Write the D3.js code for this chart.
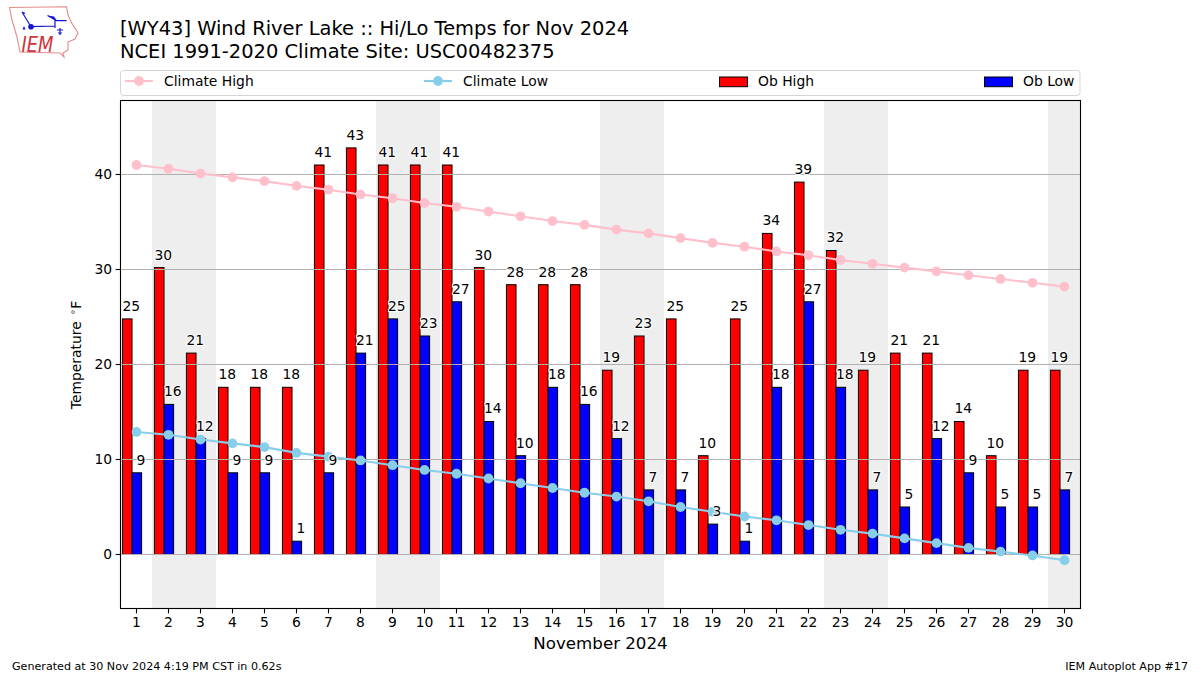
<!DOCTYPE html>
<html><head><meta charset="utf-8">
<script src="https://cdn.jsdelivr.net/npm/d3@7"></script>
<style>html,body{margin:0;padding:0;background:#fff}svg{display:block}text{font-family:"DejaVu Sans",sans-serif}</style>
</head><body><svg id="c" width="1200" height="675"></svg>
<script>
const days = d3.range(1,31);
const obHigh = [24.8,30.2,21.2,17.6,17.6,17.6,41,42.8,41,41,41,30.2,28.4,28.4,28.4,19.4,23,24.8,10.4,24.8,33.8,39.2,32,19.4,21.2,21.2,14,10.4,19.4,19.4];
const obLow = [8.6,15.8,12.2,8.6,8.6,1.4,8.6,21.2,24.8,23,26.6,14,10.4,17.6,15.8,12.2,6.8,6.8,3.2,1.4,17.6,26.6,17.6,6.8,5,12.2,8.6,5,5,6.8];
const highLabels = [25,30,21,18,18,18,41,43,41,41,41,30,28,28,28,19,23,25,10,25,34,39,32,19,21,21,14,10,19,19];
const lowLabels = [9,16,12,9,9,1,9,21,25,23,27,14,10,18,16,12,7,7,3,1,18,27,18,7,5,12,9,5,5,7];
const climHigh = [41.0,40.6,40.1,39.7,39.3,38.8,38.4,37.9,37.5,37.0,36.6,36.1,35.6,35.1,34.7,34.2,33.8,33.3,32.8,32.4,31.9,31.5,31.0,30.6,30.2,29.8,29.4,29.0,28.6,28.2];
const climLow = [12.9,12.6,12.1,11.7,11.3,10.7,10.3,9.9,9.4,8.9,8.5,8.0,7.5,7.0,6.5,6.1,5.6,5.0,4.5,4.0,3.6,3.1,2.6,2.2,1.7,1.2,0.7,0.3,-0.1,-0.6];
const weekends = [2,3,9,10,16,17,23,24,30];
const yTicks = [0,10,20,30,40];
const titles = ["[WY43] Wind River Lake :: Hi/Lo Temps for Nov 2024","NCEI 1991-2020 Climate Site: USC00482375"];

const L=120.5,R=1080.5,T=100.5,B=608.5;
const x=d3.scaleLinear().domain([0.5,30.5]).range([L,R]);
const y=d3.scaleLinear().domain([-5.684,47.789]).range([B,T]);
const svg=d3.select("#c");
const bw=x(0.3)-x(0);
const offH=-0.44, offL=-0.14;

svg.append("g").attr("shape-rendering","crispEdges").selectAll("rect").data(weekends).join("rect")
  .attr("x",d=>Math.floor(x(d-0.5))).attr("width",x(1)-x(0)).attr("y",T).attr("height",B-T).attr("fill","#eeeeee");

function bars(vals,off,col){
  svg.append("g").selectAll("rect").data(vals).join("rect")
   .attr("x",(d,i)=>x(days[i]+off)).attr("width",bw)
   .attr("y",d=>y(d)).attr("height",d=>y(0)-y(d))
   .attr("fill",col).attr("stroke","#000").attr("stroke-width",1);
}
bars(obHigh,offH,"#ff0000");
bars(obLow,offL,"#0000ff");

svg.append("g").selectAll("line").data(yTicks).join("line")
  .attr("x1",L).attr("x2",R).attr("y1",d=>y(d)).attr("y2",d=>y(d)).attr("stroke","#b0b0b0").attr("stroke-width",1);

function climate(vals,col){
  const line=d3.line().x((d,i)=>x(days[i])).y(d=>y(d));
  svg.append("path").attr("d",line(vals)).attr("fill","none").attr("stroke",col).attr("stroke-width",2.08);
  svg.append("g").selectAll("circle").data(vals).join("circle")
    .attr("cx",(d,i)=>x(days[i])).attr("cy",d=>y(d)).attr("r",4.9).attr("fill",col);
}
climate(climHigh,"#ffc0cb");
climate(climLow,"#87ceeb");

function labels(vals,labs,off){
  svg.append("g").selectAll("text").data(vals).join("text")
   .attr("x",(d,i)=>x(days[i]+off)+bw/2+4).attr("y",d=>y(d)-8)
   .attr("text-anchor","middle").attr("font-size",13.89).attr("fill","#000")
   .attr("stroke","#fff").attr("stroke-width",2).attr("paint-order","stroke")
   .text((d,i)=>labs[i]);
}
labels(obHigh,highLabels,offH);
labels(obLow,lowLabels,offL);

svg.append("rect").attr("x",L).attr("y",T).attr("width",R-L).attr("height",B-T).attr("fill","none").attr("stroke","#000").attr("stroke-width",1.1);

const ax=svg.append("g").attr("transform",`translate(0,${B})`).call(d3.axisBottom(x).offset(0).tickValues(days).tickFormat(d3.format("d")).tickSize(4.86).tickPadding(3.5));
const ay=svg.append("g").attr("transform",`translate(${L},0)`).call(d3.axisLeft(y).offset(0).tickValues(yTicks).tickSize(4.86).tickPadding(3.5));
[ax,ay].forEach(a=>{a.select(".domain").remove();a.selectAll("text").attr("font-size",13.89).attr("font-family","DejaVu Sans").attr("fill","#000");a.selectAll("line").attr("stroke","#000").attr("stroke-width",1.1);});

svg.append("text").attr("x",(L+R)/2).attr("y",649).attr("text-anchor","middle").attr("font-size",16.67).text("November 2024");
const yl=svg.append("text").attr("transform",`translate(80.5,${(T+B)/2+.5}) rotate(-90)`).attr("text-anchor","middle").attr("font-size",13.89);
yl.append("tspan").text("Temperature ");
yl.append("tspan").attr("font-size",9.7).attr("dy",-5).attr("dx",2).text("∘");
yl.append("tspan").attr("dy",5).text("F");

svg.append("g").selectAll("text").data(titles).join("text").attr("x",120).attr("y",(d,i)=>35+i*23)
  .attr("font-size",19.44).text(d=>d);

svg.append("text").attr("x",12).attr("y",670).attr("font-size",11.11).text("Generated at 30 Nov 2024 4:19 PM CST in 0.62s");
svg.append("text").attr("x",1188).attr("y",670).attr("text-anchor","end").attr("font-size",11.11).text("IEM Autoplot App #17");

// legend
const lg=svg.append("g");
lg.append("rect").attr("x",120.5).attr("y",70.5).attr("width",959.5).attr("height",25).attr("rx",3).attr("fill","#fff").attr("stroke","#d5d5d5").attr("stroke-width",1);
const lineItems=[["Climate High","#ffc0cb",125],["Climate Low","#87ceeb",424]];
lineItems.forEach(([t,c,x0])=>{
  lg.append("line").attr("x1",x0).attr("x2",x0+28).attr("y1",81).attr("y2",81).attr("stroke",c).attr("stroke-width",2.08);
  lg.append("circle").attr("cx",x0+14).attr("cy",81).attr("r",4.9).attr("fill",c);
  lg.append("text").attr("x",x0+39).attr("y",86).attr("font-size",13.89).text(t);
});
[["Ob High","#ff0000",719.5],["Ob Low","#0000ff",984.5]].forEach(([t,c,x0])=>{
  lg.append("rect").attr("x",x0).attr("y",77).attr("width",28).attr("height",9.7).attr("fill",c).attr("stroke","#000").attr("stroke-width",1);
  lg.append("text").attr("x",x0+38.5).attr("y",86).attr("font-size",13.89).text(t);
});

// logo
const lo=svg.append("g");
lo.append("path").attr("d","M9.5 7.5 L66.5 6.7 L68 15 L71.7 23 L78 33 L75 39 L68 42 L68 50 L63 53 L64 57 L60 53 L20 52 L17 37 L12 20 Z")
  .attr("fill","#fff").attr("stroke","#e58a8a").attr("stroke-width",1.1);
lo.append("path").attr("d","M31 26.7 L55 26 M55 20 L55 28 M47.5 15.5 L56.5 20.7 L66.5 20.7 M22 12 L31 26.7 M22 12 L25 13.5 M60 28 L60 35 M57 30 L63 30 M58 33 L62 33").attr("fill","none").attr("stroke","#1414d2").attr("stroke-width",1.2);
lo.append("path").attr("d","M47.5 15.5 L54 16.5 L57 20.7 Z").attr("fill","#1414d2");
lo.append("circle").attr("cx",31).attr("cy",26.7).attr("r",2.8).attr("fill","#1414d2");
lo.append("path").attr("d","M24 26 L22.5 29.5 L25.5 29.5 Z").attr("fill","#1414d2");
lo.append("text").attr("x",21.5).attr("y",52).attr("font-family","Liberation Serif").attr("font-style","italic").attr("font-size",21).attr("textLength",32).attr("lengthAdjust","spacingAndGlyphs").attr("fill","#d2323a").text("IEM");
</script></body></html>
